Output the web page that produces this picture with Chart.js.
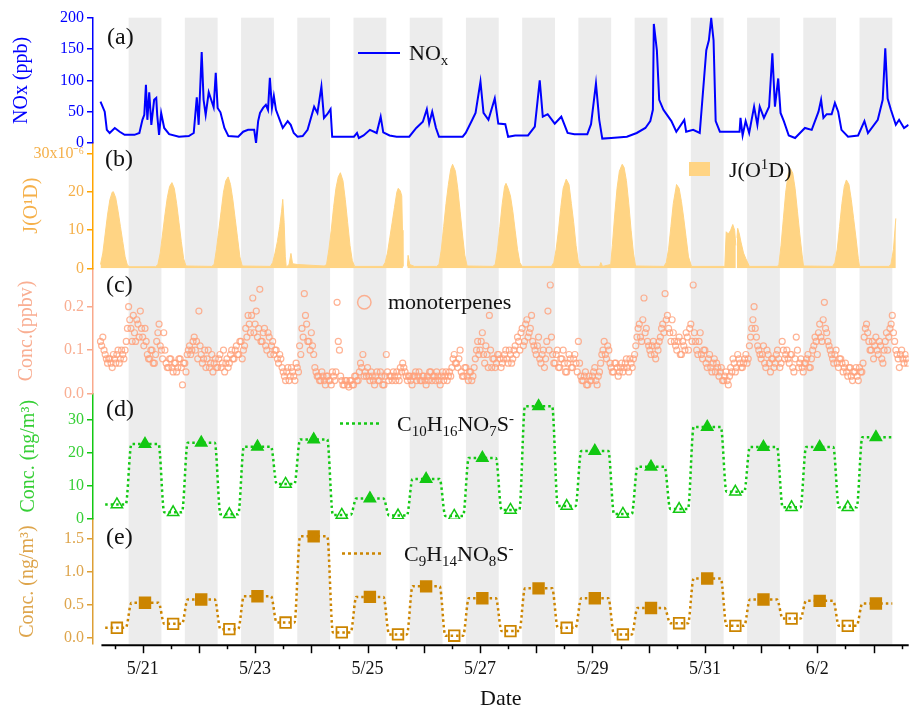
<!DOCTYPE html>
<html>
<head>
<meta charset="utf-8">
<script src="https://cdn.jsdelivr.net/npm/chart.js@4.4.1/dist/chart.umd.min.js"></script>
<style>
  html, body { margin: 0; padding: 0; background: #fff; }
  canvas { display: block; }
</style>
</head>
<body>
<canvas id="chart" width="918" height="710"></canvas>
<script>
const FONT = "'Liberation Serif', 'Times New Roman', serif";

// all times are hours counted from 5/20 00:00
const nightBands = [[18,32],[42,56],[66,80],[90,104],[114,128],[138,152],[162,176],[186,200],
  [210,224],[234,248],[258,272],[282,296],[306,320],[330,344]];
const dateLabels = ['5/21','5/23','5/25','5/27','5/29','5/31','6/2'];
const dateLabelHours = [24,72,120,168,216,264,312];

// (a) NOx, ppb  [hour, value]
const noxData = [[6,66],[7.8,50],[8.7,21],[9.9,16],[12.1,24],[14.2,18],[16.3,13],[20.5,13],[22.6,16],[23.9,37],
  [24.7,45],[25.4,93],[26,37],[26.8,81],[27.7,29],[28.9,69],[29.8,72],[30.2,45],[31,13],[31.9,48],[33.2,24],
  [35.3,14],[39.5,10],[43.7,11],[45.8,16],[47.1,73],[47.9,29],[49.2,145],[50,69],[50.9,45],[52.2,81],[54.3,57],
  [55.2,112],[56,56],[57.2,49],[58.9,24],[60.6,11],[64.8,10],[66.9,18],[69,21],[71.6,21],[72.4,0],[73.3,35],
  [74.1,48],[75.4,56],[76.6,61],[77.5,53],[78.3,104],[79.2,56],[80,75],[80.9,53],[82.5,37],[83.8,24],[85.9,35],
  [87.2,29],[88.5,16],[90.1,10],[92.3,11],[94.4,21],[97.2,58],[98.6,48],[100.3,90],[101.4,40],[102.8,46],
  [104.2,54],[104.9,10],[107,10],[114.2,10],[115.5,16],[116.3,8],[118.3,12],[121,21],[123.9,16],[125.6,42],
  [126.7,17],[129.4,12],[132.4,10],[137.8,10],[140.8,24],[143.6,34],[145.3,54],[146.3,31],[147.6,50],[149.2,24],
  [150.5,10],[160.6,10],[161.9,16],[164.7,37],[166.1,48],[168.2,98],[169.5,48],[171.6,37],[174.3,71],[175.8,31],
  [178.8,30],[180,10],[183,12],[188.5,12],[191.4,26],[193.5,100],[194.8,42],[196.9,46],[199.9,31],[202.7,42],
  [205.4,16],[208.3,14],[213.8,14],[215.4,30],[217.5,95],[218.9,37],[220.2,7],[224,8],[230.7,10],[234.9,16],
  [238.6,24],[240.7,35],[241.8,53],[242.2,190],[243.5,148],[244.5,69],[246.3,53],[247.6,46],[249.7,35],[251.8,18],
  [255.2,37],[256,18],[259,21],[261.8,16],[264.6,148],[265.7,164],[266.7,199],[267.7,164],[268.6,35],[270.4,18],
  [278.8,18],[279.2,40],[280.1,12],[281.4,35],[282.9,16],[285,58],[286.4,29],[287.4,58],[289.2,40],[291.4,58],
  [292.8,143],[293.9,58],[295.3,103],[296.3,48],[297.7,35],[299.8,12],[302.5,8],[306.7,24],[309.6,21],[312.5,50],
  [313.6,69],[314.6,40],[316,46],[318.1,46],[319.5,64],[320.9,50],[322.3,21],[325.1,10],[329.4,12],[332.1,35],
  [333.6,16],[337.8,37],[339.9,69],[341,151],[342,71],[343.4,53],[345.5,29],[346.9,37],[349,24],[350.9,29]];

// (b) J(O1D), 1e-6 s-1  [hour, value]
const jData = [[6,1],[7,4],[8,9],[9,14],[10,18],[11,20],[11.5,20.1],[12.5,18.5],[13.5,15],[14.5,11],[15.5,7],[16.5,3],[17.5,0.8],[18.5,0.4],[29.5,0.4],
  [30.5,1],[31.5,4],[32.5,9],[33.5,14],[34.5,18.5],[35.5,21.5],[36.5,22.5],[37.5,21],[38.5,17],[39.5,12],[40.5,7],[41.5,2.5],[42.5,0.6],[53.5,0.5],
  [54.5,1],[55.5,5],[56.5,10],[57.5,15],[58.5,20],[59.5,23],[60.5,24],[61.5,22],[62.5,18],[63.5,13],[64.5,8],[65.5,3],[66.5,0.6],[78.5,0.5],
  [79.5,1.5],[80.5,4],[81.5,7],[82.5,11],[83.3,15],[83.8,18.1],[84.4,12],[84.9,3],[85.3,0.3],[86.5,1],[87.3,3.9],[88,1.2],[90,1],[101.5,0.6],
  [102.5,1],[103.5,5],[104.5,10],[105.5,16],[106.5,21],[107.5,24],[108.4,25.1],[109.5,23],[110.5,18],[111.5,12],[112.5,6],[113.5,2],[114.5,0.5],[126.5,0.5],
  [127.5,1.5],[128.5,4],[129.5,8],[130.5,12],[131.5,16],[132.5,20],[133.1,21],[134,20.3],[134.6,19],[134.9,10],[135.1,0.5],[135.5,null],[137,0.5],[137.3,3.4],[138,1],[140,0.5],[149.5,0.5],
  [150.5,1],[151.5,5],[152.5,11],[153.5,17],[154.5,22],[155.5,26],[156.3,27.3],[157.5,25.5],[158.5,21],[159.5,15],[160.5,9],[161.5,3.5],[162.5,0.6],[173.5,0.5],
  [174.5,1],[175.5,5],[176.5,11],[177.5,17],[178.5,21.5],[179.1,22.3],[180,21],[181,19],[182,15],[183,10],[184,5],[185,1.5],[186,0.5],[198.5,0.5],
  [199.5,1.5],[200.5,5],[201.5,10],[202.5,16],[203.5,21],[204.8,23.4],[206,22],[207,17],[208,12],[209,6],[210,1.5],[211,0.5],[219,0.5],[219.6,1.5],[220.3,0.5],
  [223.8,1],[224.5,6],[225.5,14],[226.5,21],[227.5,25.5],[228.7,27.3],[229.5,26.5],[230.5,23],[231.5,17],[232.5,10],[233.5,4],[234.4,0.6],[246.5,0.5],
  [247.5,1.5],[248.5,5],[249.5,11],[250.5,17],[251.9,22],[253,21],[254,17.5],[255,13],[256,8],[257,3],[258.3,0.5],[272.5,0.5],
  [273.1,9.6],[274,9],[275,10],[275.9,11.5],[276.7,10],[277.2,6],[277.4,null],[277.7,8],[278,10.5],[278.7,9],[279.4,6.9],[280.5,4],[281.5,2.5],[283,0.5],[295,0.5],
  [295.6,1],[296.5,6],[297.5,13],[298.5,20],[299.5,24.5],[300.5,26.2],[301.5,25],[302.5,21],[303.5,15],[304.5,9],[305.5,3.5],[306.1,0.6],[318.5,0.5],
  [319.5,1.5],[320.5,5],[321.5,11],[322.5,17],[323.5,21.5],[324.4,23.2],[325.5,22],[326.5,18],[327.5,13],[328.5,8],[329.5,2.5],[330,0.5],[342.5,0.5],
  [343.4,1],[344.5,5],[345.5,13.1]];

// (c) monoterpenes, ppbv: readings on the hour from 5/20 06:00, and on the half hour from 06:30
const monoStartHour = 6;
const monoValues = [
  .12,.13,.09,.07,.08,.06,.08,.09,.07,.10,.08,.12,.20,.15,.18,.12,.16,.19,
  .13,.15,.09,.08,.10,.07,.12,.16,.10,.14,.07,.06,.08,.05,.07,.06,.08,.02,.07,.09,.11,.10,.13,.12,
  .19,.09,.08,.06,.10,.07,.05,.08,.06,.09,.07,.05,.08,.07,.10,.08,.11,.09,.12,.10,.15,.18,.14,.22,
  .16,.13,.24,.12,.15,.10,.13,.11,.09,.10,.07,.08,.05,.03,.06,.04,.05,.03,.06,.11,.15,.23,.16,.12,
  .14,.09,.05,.04,.03,.04,.02,.04,.03,.05,.03,.21,.10,.03,.02,.03,.015,.03,.02,.04,.03,.07,.09,.05,
  .06,.03,.04,.02,.05,.03,.04,.02,.09,.03,.04,.05,.03,.04,.06,.07,.05,.03,.04,.02,.04,.03,.05,.03,
  .04,.02,.03,.05,.04,.03,.04,.02,.05,.04,.03,.05,.06,.09,.07,.08,.05,.04,.06,.03,.05,.04,.08,.12,
  .10,.14,.07,.09,.18,.06,.08,.07,.09,.06,.08,.10,.07,.09,.08,.11,.13,.10,.15,.12,.17,.14,.18,.11,
  .09,.13,.07,.10,.08,.19,.25,.09,.07,.10,.06,.08,.07,.05,.09,.06,.08,.07,.12,.04,.03,.05,.02,.03,
  .04,.06,.02,.05,.09,.12,.08,.10,.06,.05,.07,.04,.06,.05,.07,.06,.08,.06,.09,.13,.16,.12,.22,.15,
  .11,.09,.12,.08,.10,.13,.16,.23,.18,.14,.17,.12,.10,.13,.09,.11,.14,.10,.16,.25,.12,.09,.14,.08,
  .10,.06,.09,.05,.08,.07,.04,.06,.03,.05,.02,.06,.08,.05,.09,.07,.06,.08,.07,.11,.15,.20,.13,.10,
  .08,.11,.06,.09,.05,.08,.07,.10,.06,.12,.08,.10,.07,.09,.05,.13,.06,.08,.05,.07,.09,.06,.10,.13,
  .09,.16,.12,.21,.14,.11,.09,.07,.10,.06,.08,.05,.07,.04,.06,.03,.05,.04,.06,.05,.13,.16,.12,.10,
  .08,.13,.09,.11,.07,.12,.10,.15,.18,.12,.09,.06,.10,.07,.08];
const monoHalfValues = [
  .11,.10,.08,.08,.07,.09,.07,.10,.08,.09,.10,.15,.17,.12,.14,.17,.13,.15,
  .11,.12,.08,.10,.07,.09,.14,.11,.08,.10,.06,.08,.06,.07,.05,.08,.06,.07,.05,.10,.09,.12,.10,.08,
  .11,.07,.10,.08,.06,.09,.07,.06,.08,.06,.10,.07,.06,.09,.08,.10,.09,.12,.08,.11,.13,.16,.18,.14,
  .19,.15,.12,.14,.11,.14,.09,.12,.10,.08,.09,.06,.04,.05,.03,.06,.04,.07,.05,.09,.13,.18,.12,.10,
  .11,.06,.04,.03,.05,.03,.04,.03,.02,.04,.05,.12,.04,.02,.03,.02,.03,.02,.04,.03,.05,.06,.04,.04,
  .04,.05,.03,.04,.03,.05,.02,.04,.05,.04,.03,.04,.05,.03,.05,.06,.04,.04,.03,.04,.05,.04,.03,.04,
  .03,.04,.05,.03,.04,.05,.03,.04,.03,.05,.04,.04,.08,.07,.06,.10,.04,.06,.04,.05,.03,.06,.10,.09,
  .12,.09,.11,.06,.10,.08,.06,.09,.08,.07,.09,.08,.10,.07,.10,.09,.12,.14,.11,.16,.13,.15,.12,.10,
  .11,.08,.09,.06,.12,.10,.13,.07,.09,.06,.08,.10,.05,.07,.08,.06,.09,.05,.07,.03,.04,.02,.04,.03,
  .05,.03,.04,.07,.10,.09,.11,.07,.05,.07,.06,.05,.07,.06,.08,.05,.07,.08,.11,.15,.13,.17,.14,.12,
  .10,.11,.09,.11,.12,.15,.14,.17,.15,.12,.14,.11,.12,.09,.12,.10,.13,.15,.12,.14,.10,.12,.09,.10,
  .07,.08,.06,.07,.05,.06,.05,.03,.04,.03,.04,.05,.07,.06,.08,.06,.07,.09,.08,.13,.17,.15,.11,.09,
  .09,.07,.10,.07,.08,.06,.09,.08,.07,.10,.09,.08,.09,.06,.08,.10,.07,.06,.07,.08,.06,.08,.11,.12,
  .14,.13,.17,.15,.12,.10,.08,.09,.07,.08,.07,.06,.05,.06,.04,.05,.06,.03,.05,.07,.15,.14,.10,.12,
  .11,.10,.12,.08,.10,.14,.13,.16,.14,.10,.08,.09,.08,.09,.07];

// (d), (e) filter samples: centre hour (13:00 = day 08-18, 01:00 = night 18-08)
const sampleHours = [13,25,37,49,61,73,85,97,109,121,133,145,157,169,181,193,205,217,229,241,253,265,277,289,301,313,325,337];
const c10Values = [4.4,22.7,2.0,23.1,1.4,21.9,10.6,24.1,1.2,6.2,1.0,12.1,0.9,18.5,2.7,34.2,3.9,20.6,1.5,15.8,3.0,27.9,8.2,21.8,3.5,21.8,3.5,24.8];
const c9Values = [0.15,0.53,0.21,0.58,0.13,0.63,0.23,1.54,0.08,0.62,0.05,0.78,0.03,0.60,0.10,0.75,0.15,0.60,0.05,0.45,0.22,0.90,0.18,0.58,0.29,0.56,0.18,0.52];

const COL = {
  nox: '#0000ff', j: '#ffd484', jAxis: '#ffa500', jText: '#f5b04a',
  mono: 'rgba(255,160,122,0.8)', monoAxis: '#f9a98c', monoText: '#f9ae92',
  c10: '#13c813', c10Text: '#36cf36', c9: '#cc8500', c9Axis: '#dd9f35', c9Text: '#dea54c',
  band: '#ececec', ink: '#111'
};

function isDay(h) { return h % 24 === 13; }

function stepLine(values) {
  const pts = [];
  const r = 1.2;
  sampleHours.forEach((h, i) => {
    const half = isDay(h) ? 5 : 7;
    pts.push({ x: i === 0 ? h - half : h - half + r, y: values[i] });
    pts.push({ x: i === sampleHours.length - 1 ? h + half : h + half - r, y: values[i] });
  });
  return pts;
}

function yAxis(color, textColor, title, titlePad, min, max, step, fmt) {
  return {
    type: 'linear', position: 'left', stack: 'panels', stackWeight: 1, min: min, max: max,
    border: { color: color, width: 1.5 },
    grid: { drawOnChartArea: false, color: color, lineWidth: 1.5, tickLength: 6 },
    ticks: { stepSize: step, includeBounds: false, autoSkip: false, color: textColor, padding: 3,
      font: { family: FONT, size: 16 }, callback: fmt },
    title: { display: true, text: title, color: textColor, font: { family: FONT, size: 20 },
      padding: { top: titlePad, bottom: 0 } },
    afterFit(s) { s.width = 93; }
  };
}

function richText(ctx, x, y, parts, size, color) {
  ctx.save();
  ctx.fillStyle = color;
  ctx.textAlign = 'left';
  ctx.textBaseline = 'alphabetic';
  const base = y + size * 0.33;
  let cx = x;
  for (const [t, k] of parts) {
    const s = k ? size * 0.68 : size;
    ctx.font = s + 'px ' + FONT;
    const dy = k === 'sub' ? size * 0.22 : (k === 'sup' ? -size * 0.38 : 0);
    ctx.fillText(t, cx, base + dy);
    cx += ctx.measureText(t).width;
  }
  ctx.restore();
}

const decorations = {
  id: 'decorations',
  beforeDatasetsDraw(chart) {
    const { ctx, chartArea: a, scales: { x } } = chart;
    ctx.save();
    ctx.fillStyle = COL.band;
    for (const [s, e] of nightBands) {
      const x0 = Math.max(a.left, x.getPixelForValue(s));
      const x1 = Math.min(a.right, x.getPixelForValue(e));
      if (x1 > x0) ctx.fillRect(x0, a.top, x1 - x0, a.bottom - a.top);
    }
    ctx.restore();
  },
  afterDatasetsDraw(chart) {
    const { ctx, chartArea: a, scales: { x } } = chart;
    ctx.save();
    // x axis line and ticks (day = long, noon = short)
    ctx.strokeStyle = '#000';
    ctx.lineWidth = 2;
    ctx.beginPath();
    ctx.moveTo(x.getPixelForValue(6.4), a.bottom + 1);
    ctx.lineTo(a.right, a.bottom + 1);
    ctx.stroke();
    ctx.lineWidth = 1.5;
    for (let h = 12; h < 351; h += 12) {
      const px = Math.round(x.getPixelForValue(h)) + 0.5;
      ctx.beginPath();
      ctx.moveTo(px, a.bottom + 1);
      ctx.lineTo(px, a.bottom + 1 + (h % 24 === 0 ? 8 : 4));
      ctx.stroke();
    }

    // panel letters
    ctx.fillStyle = COL.ink;
    ctx.font = '24px ' + FONT;
    ctx.textBaseline = 'middle';
    [['(a)', 107, 38], ['(b)', 105, 160], ['(c)', 106, 286], ['(d)', 106, 410], ['(e)', 106, 538]]
      .forEach(([t, px, py]) => ctx.fillText(t, px, py));

    // legends
    ctx.strokeStyle = COL.nox; ctx.lineWidth = 2;
    ctx.beginPath(); ctx.moveTo(358, 53); ctx.lineTo(400, 53); ctx.stroke();
    richText(ctx, 409, 53, [['NO'], ['x', 'sub']], 22, COL.ink);

    ctx.fillStyle = COL.j;
    ctx.fillRect(689, 162, 21, 14);
    richText(ctx, 729, 170, [['J(O'], ['1', 'sup'], ['D)']], 22, COL.ink);

    ctx.strokeStyle = COL.mono; ctx.lineWidth = 1.5;
    ctx.beginPath(); ctx.arc(364.3, 302.3, 6.7, 0, Math.PI * 2); ctx.stroke();
    richText(ctx, 388, 302, [['monoterpenes']], 22, COL.ink);

    ctx.setLineDash([3, 3]); ctx.lineWidth = 2.5;
    ctx.strokeStyle = COL.c10;
    ctx.beginPath(); ctx.moveTo(340, 423.5); ctx.lineTo(381, 423.5); ctx.stroke();
    ctx.strokeStyle = COL.c9;
    ctx.beginPath(); ctx.moveTo(342, 553.5); ctx.lineTo(383, 553.5); ctx.stroke();
    ctx.setLineDash([]);
    richText(ctx, 397, 424, [['C'], ['10', 'sub'], ['H'], ['16', 'sub'], ['NO'], ['7', 'sub'], ['S'], ['-', 'sup']], 22, COL.ink);
    richText(ctx, 404, 554, [['C'], ['9', 'sub'], ['H'], ['14', 'sub'], ['NO'], ['8', 'sub'], ['S'], ['-', 'sup']], 22, COL.ink);
    ctx.restore();
  }
};

const monoStyle = { yAxisID: 'yC', showLine: false, pointStyle: 'circle', pointRadius: 3,
  pointBorderWidth: 1.2, pointBorderColor: COL.mono, pointBackgroundColor: 'rgba(0,0,0,0)' };

const datasets = [
  { data: jData.map(p => ({ x: p[0], y: p[1] })), yAxisID: 'yB', fill: 'origin',
    backgroundColor: COL.j, borderColor: COL.j, borderWidth: 1, pointRadius: 0, spanGaps: false },
  { data: noxData.map(p => ({ x: p[0], y: p[1] })), yAxisID: 'yA',
    borderColor: COL.nox, borderWidth: 2, pointRadius: 0 },
  Object.assign({ data: monoValues.map((v, i) => ({ x: monoStartHour + i, y: v })) }, monoStyle),
  Object.assign({ data: monoHalfValues.map((v, i) => ({ x: monoStartHour + 0.5 + i, y: v })) }, monoStyle),
  { data: stepLine(c10Values), yAxisID: 'yD', borderColor: COL.c10, borderWidth: 2.5,
    borderDash: [2.5, 3], cubicInterpolationMode: 'monotone', pointRadius: 0 },
  { data: sampleHours.map((h, i) => ({ x: h, y: c10Values[i] })), yAxisID: 'yD', showLine: false,
    pointStyle: 'triangle', pointRadius: 6.5, pointBorderWidth: 1.5, pointBorderColor: COL.c10,
    pointBackgroundColor: sampleHours.map(h => isDay(h) ? '#fff' : COL.c10) },
  { data: stepLine(c9Values), yAxisID: 'yE', borderColor: COL.c9, borderWidth: 2.5,
    borderDash: [2.5, 3], cubicInterpolationMode: 'monotone', pointRadius: 0 },
  { data: sampleHours.map((h, i) => ({ x: h, y: c9Values[i] })), yAxisID: 'yE', showLine: false,
    pointStyle: 'rect', pointRadius: 7.5, pointBorderWidth: 1.8, pointBorderColor: COL.c9,
    pointBackgroundColor: sampleHours.map(h => isDay(h) ? '#fff' : COL.c9) }
];

new Chart(document.getElementById('chart').getContext('2d'), {
  type: 'line',
  data: { datasets: datasets },
  plugins: [decorations],
  options: {
    responsive: false,
    animation: false,
    devicePixelRatio: 1,
    layout: { padding: { top: 17.7, left: 0, right: 0, bottom: 0 } },
    plugins: { legend: { display: false }, tooltip: { enabled: false } },
    scales: {
      x: {
        type: 'linear', min: 2.8, max: 351,
        grid: { display: false }, border: { display: false },
        afterBuildTicks(s) { s.ticks = dateLabelHours.map(v => ({ value: v })); },
        ticks: { autoSkip: false, maxRotation: 0, padding: 6, color: COL.ink,
          font: { family: FONT, size: 18 },
          callback: v => dateLabels[dateLabelHours.indexOf(v)] },
        title: { display: true, text: 'Date', color: COL.ink,
          font: { family: FONT, size: 22, lineHeight: 1 }, padding: { top: 0, bottom: 0 } },
        afterFit(s) { s.height = 65.8; }
      },
      yE: yAxis(COL.c9Axis, COL.c9Text, 'Conc. (ng/m³)', 16, -0.099, 1.805, 0.5, v => v.toFixed(1)),
      yD: yAxis(COL.c10, COL.c10Text, 'Conc. (ng/m³)', 17, 0, 38, 10, v => v),
      yC: yAxis(COL.monoAxis, COL.monoText, 'Conc.(ppbv)', 15, 0, 0.2884, 0.1, v => v.toFixed(1)),
      yB: yAxis(COL.jAxis, COL.jText, 'J(O¹D)', 20, 0, 32.9, 10, v => v === 30 ? '30x10⁻⁶' : v),
      yA: yAxis(COL.nox, COL.nox, 'NOx (ppb)', 10, 0, 200, 50, v => v)
    }
  }
});
</script>
</body>
</html>
